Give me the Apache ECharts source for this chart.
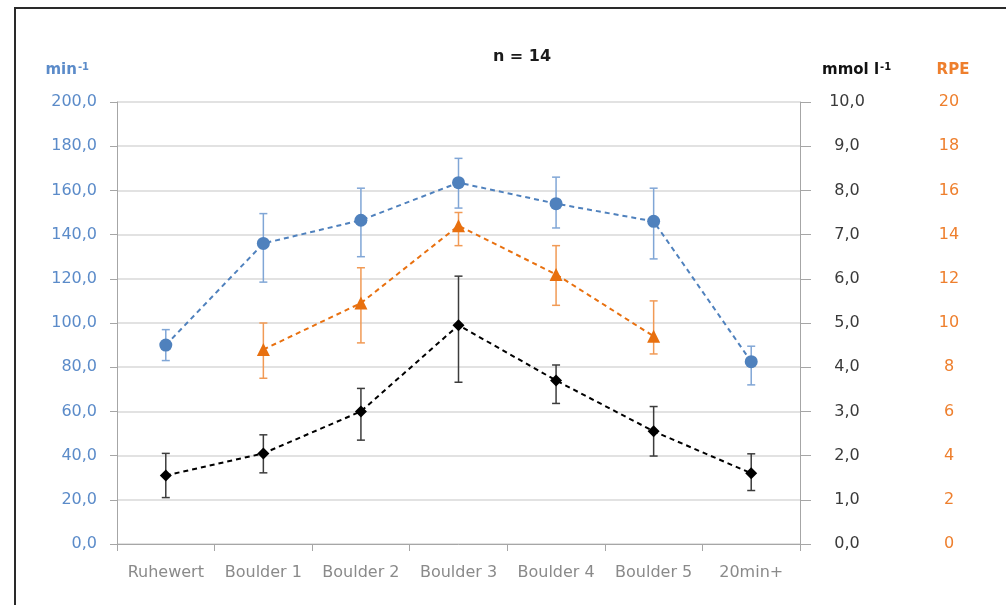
<!DOCTYPE html>
<html>
<head>
<meta charset="utf-8">
<script src="https://cdn.jsdelivr.net/npm/echarts@6/dist/echarts.min.js"></script>
<style>
  html, body { margin: 0; padding: 0; background: #ffffff; }
  #chart { width: 1006px; height: 605px; }
</style>
</head>
<body>
<div id="chart"></div>
<script>
// Stages of the bouldering session
const categories = ['Ruhewert', 'Boulder 1', 'Boulder 2', 'Boulder 3', 'Boulder 4', 'Boulder 5', '20min+'];

// Heart rate (min^-1): mean with lower / upper error bar ends
const hrMean = [90.0, 136.0, 146.5, 163.5, 154.0, 146.0, 82.5];
const hrLow  = [83.0, 118.5, 130.0, 152.0, 143.0, 129.0, 72.0];
const hrHigh = [97.0, 149.5, 161.0, 174.5, 166.0, 161.0, 89.5];

// Rating of perceived exertion (RPE), only rated after each boulder
const rpeMean = [null, 8.8, 10.9, 14.4, 12.2, 9.4, null];
const rpeLow  = [null, 7.5, 9.1, 13.5, 10.8, 8.6, null];
const rpeHigh = [null, 10.0, 12.5, 15.0, 13.5, 11.0, null];

// Blood lactate (mmol l^-1)
const lacMean = [1.55, 2.05, 3.0, 4.95, 3.7, 2.55, 1.6];
const lacLow  = [1.05, 1.61, 2.35, 3.66, 3.18, 1.99, 1.21];
const lacHigh = [2.05, 2.47, 3.52, 6.06, 4.05, 3.11, 2.04];

const FONT = 'DejaVu Sans';
const BLUE = '#4f81bd';
const BLUE_LABEL = '#5b8bc9';
const BLUE_ERR = '#80a6d6';
const ORANGE = '#e8700f';
const ORANGE_LABEL = '#ee7f2d';
const ORANGE_ERR = '#f19a55';
const BLACK = '#000000';
const BLACK_ERR = '#3c3c3c';

const comma1 = v => v.toFixed(1).replace('.', ',');

function errorData(low, high) {
  const out = [];
  low.forEach((l, i) => {
    if (l != null && high[i] != null) out.push([i, l, high[i]]);
  });
  return out;
}

function errorSeries(low, high, yAxisIndex, color) {
  return {
    type: 'custom',
    yAxisIndex: yAxisIndex,
    z: 1,
    silent: true,
    data: errorData(low, high),
    encode: { x: 0, y: [1, 2] },
    renderItem: function (params, api) {
      const x = api.value(0);
      const lo = api.coord([x, api.value(1)]);
      const hi = api.coord([x, api.value(2)]);
      const cap = 4;
      const style = { stroke: color, lineWidth: 1.5 };
      return {
        type: 'group',
        children: [
          { type: 'line', shape: { x1: lo[0], y1: lo[1], x2: hi[0], y2: hi[1] }, style: style },
          { type: 'line', shape: { x1: hi[0] - cap, y1: hi[1], x2: hi[0] + cap, y2: hi[1] }, style: style },
          { type: 'line', shape: { x1: lo[0] - cap, y1: lo[1], x2: lo[0] + cap, y2: lo[1] }, style: style }
        ]
      };
    }
  };
}

function lineSeries(data, yAxisIndex, color, symbol, size) {
  return {
    type: 'line',
    yAxisIndex: yAxisIndex,
    data: data,
    z: 3,
    symbol: symbol,
    symbolSize: size,
    showAllSymbol: true,
    connectNulls: false,
    itemStyle: { color: color },
    lineStyle: { color: color, width: 2, type: [5, 4] },
    emphasis: { disabled: true },
    animation: false
  };
}

const chart = echarts.init(document.getElementById('chart'), null, { renderer: 'canvas' });

chart.setOption({
  animation: false,
  backgroundColor: '#ffffff',
  textStyle: { fontFamily: FONT },
  title: {
    text: 'n = 14',
    left: 517,
    top: 44,
    textAlign: 'center',
    textStyle: { fontFamily: FONT, fontSize: 16, fontWeight: 'bold', color: '#1a1a1a' }
  },
  graphic: [
    {
      type: 'rect',
      shape: { x: 15, y: 8, width: 1010, height: 620 },
      style: { fill: 'none', stroke: '#2a2a2a', lineWidth: 2 },
      silent: true
    }
  ],
  grid: { left: 117, right: 206, top: 102, bottom: 61, containLabel: false },
  xAxis: {
    type: 'category',
    data: categories,
    boundaryGap: true,
    axisLine: { show: true, lineStyle: { color: '#a6a6a6', width: 1 } },
    axisTick: { show: true, interval: 0, alignWithLabel: false, length: 7, lineStyle: { color: '#a6a6a6' } },
    axisLabel: { interval: 0, hideOverlap: false, color: '#8a8a8a', fontFamily: FONT, fontSize: 16, margin: 21 },
    splitLine: { show: false }
  },
  yAxis: [
    {
      type: 'value',
      position: 'left',
      min: 0, max: 200, interval: 20,
      name: 'min{sup|-1}',
      nameLocation: 'end',
      nameGap: 24,
      nameTextStyle: {
        align: 'right',
        padding: [0, 28, 0, 0],
        color: BLUE_LABEL, fontFamily: FONT, fontSize: 15, fontWeight: 'bold',
        rich: { sup: { fontSize: 10, fontWeight: 'bold', color: BLUE_LABEL, fontFamily: FONT, verticalAlign: 'top', padding: [0, 0, 6, 1] } }
      },
      axisLine: { show: true, lineStyle: { color: '#a6a6a6', width: 1 } },
      axisTick: { show: true, length: 7, lineStyle: { color: '#a6a6a6' } },
      axisLabel: { color: BLUE_LABEL, fontFamily: FONT, fontSize: 16, margin: 20, formatter: comma1 },
      splitLine: { show: true, lineStyle: { color: '#d9d9d9', width: 1.5 } }
    },
    {
      type: 'value',
      position: 'right',
      min: 0, max: 10, interval: 1,
      name: 'mmol l{sup|-1}',
      nameLocation: 'end',
      nameGap: 24,
      nameTextStyle: {
        align: 'left',
        padding: [0, 0, 0, 22],
        color: '#111111', fontFamily: FONT, fontSize: 15, fontWeight: 'bold',
        rich: { sup: { fontSize: 10, fontWeight: 'bold', color: '#111111', fontFamily: FONT, verticalAlign: 'top', padding: [0, 0, 6, 1] } }
      },
      axisLine: { show: true, lineStyle: { color: '#a6a6a6', width: 1 } },
      axisTick: { show: true, length: 11, lineStyle: { color: '#a6a6a6' } },
      axisLabel: { color: '#3a3a3a', fontFamily: FONT, fontSize: 16, margin: 47, align: 'center', formatter: comma1 },
      splitLine: { show: false }
    },
    {
      type: 'value',
      position: 'right',
      offset: 0,
      min: 0, max: 20, interval: 2,
      name: 'RPE',
      nameLocation: 'end',
      nameGap: 24,
      nameTextStyle: {
        align: 'center',
        padding: [0, 0, 0, 306],
        color: ORANGE_LABEL, fontFamily: FONT, fontSize: 15, fontWeight: 'bold'
      },
      axisLine: { show: false },
      axisTick: { show: false },
      axisLabel: { color: ORANGE_LABEL, fontFamily: FONT, fontSize: 16, margin: 149, align: 'center' },
      splitLine: { show: false }
    }
  ],
  series: [
    errorSeries(hrLow, hrHigh, 0, BLUE_ERR),
    errorSeries(rpeLow, rpeHigh, 2, ORANGE_ERR),
    errorSeries(lacLow, lacHigh, 1, BLACK_ERR),
    lineSeries(hrMean, 0, BLUE, 'circle', 13),
    lineSeries(rpeMean, 2, ORANGE, 'triangle', 13),
    lineSeries(lacMean, 1, BLACK, 'diamond', 12)
  ]
});
</script>
</body>
</html>
